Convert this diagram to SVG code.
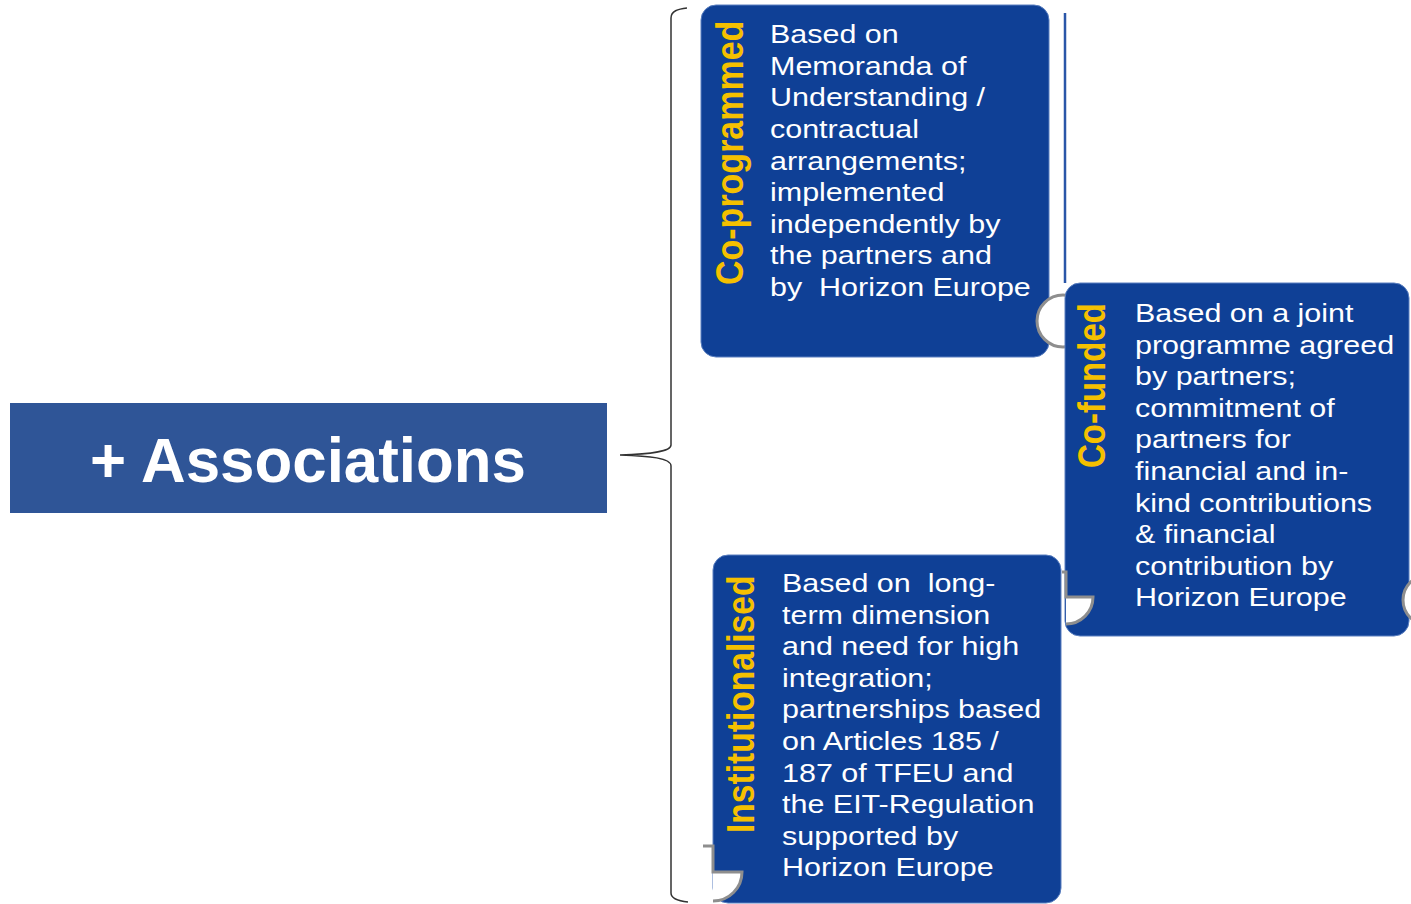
<svg xmlns="http://www.w3.org/2000/svg" width="1411" height="904" viewBox="0 0 1411 904">
<style>
.box{fill:#0F4096;stroke:#5a7fc0;stroke-width:1}
.body{font-family:"Liberation Sans",Arial,sans-serif;font-size:26.5px;fill:#FFFFFF}
.label{font-family:"Liberation Sans",Arial,sans-serif;font-weight:bold;fill:#F5C000}
.tab{fill:none;stroke:#8e8e8e;stroke-width:3}
.tabfill{fill:#FFFFFF;stroke:none}
.brace{fill:none;stroke:#333333;stroke-width:1.5}
</style>
<rect width="1411" height="904" fill="#FFFFFF"/>
<g id="connectors">
<path class="brace" d="M687,8 C678,9 671,11 671,18 L671,445 C671,452 650,454 620,455 C650,456 671,458 671,466 L671,893 C671,899 678,901 688,902"/>
</g>
<g id="node-associations">
<rect x="10" y="403" width="597" height="110" fill="#2F5597"/>
<text x="308" y="482" text-anchor="middle" font-family="'Liberation Sans',Arial,sans-serif" font-weight="bold" font-size="63" fill="#FFFFFF" textLength="436" lengthAdjust="spacingAndGlyphs">+ Associations</text>
</g>
<g id="node-coprogrammed">
<rect class="box" x="701" y="5" width="348" height="352" rx="15" ry="15"/>
<text class="label" font-size="34" transform="translate(743,285) scale(1.15,1) rotate(-90)">Co-programmed</text>
<text class="body" transform="translate(770,0) scale(1.15,1)">
<tspan x="0" y="43.3">Based on</tspan>
<tspan x="0" y="74.9">Memoranda of</tspan>
<tspan x="0" y="106.5">Understanding /</tspan>
<tspan x="0" y="138.1">contractual</tspan>
<tspan x="0" y="169.7">arrangements;</tspan>
<tspan x="0" y="201.3">implemented</tspan>
<tspan x="0" y="232.9">independently by</tspan>
<tspan x="0" y="264.5">the partners and</tspan>
<tspan x="0" y="296.1">by&#160; Horizon Europe</tspan>
</text>
<circle cx="1063" cy="321" r="26" fill="#FFFFFF" stroke="#8e8e8e" stroke-width="3"/>
</g>
<line x1="1065" y1="13" x2="1065" y2="283" stroke="#2a56a8" stroke-width="2.5"/>
<g id="node-cofunded">
<rect class="box" x="1065" y="283" width="344" height="353" rx="15" ry="15"/>
<text class="label" font-size="33" transform="translate(1105,468) scale(1.15,1) rotate(-90)">Co-funded</text>
<text class="body" transform="translate(1135,0) scale(1.15,1)">
<tspan x="0" y="322">Based on a joint</tspan>
<tspan x="0" y="353.6">programme agreed</tspan>
<tspan x="0" y="385.2">by partners;</tspan>
<tspan x="0" y="416.8">commitment of</tspan>
<tspan x="0" y="448.4">partners for</tspan>
<tspan x="0" y="480">financial and in-</tspan>
<tspan x="0" y="511.6">kind contributions</tspan>
<tspan x="0" y="543.2">&amp; financial</tspan>
<tspan x="0" y="574.8">contribution by</tspan>
<tspan x="0" y="606.4">Horizon Europe</tspan>
</text>
<path class="tabfill" d="M1066,597 L1093,597 A27,27 0 0 1 1066,624 Z"/>
<path class="tab" d="M1062,572 L1066,572 L1066,597 L1093,597 A27,27 0 0 1 1066,624"/>
<circle cx="1428" cy="600" r="25" fill="#FFFFFF" stroke="#8e8e8e" stroke-width="3"/>
</g>
<g id="node-institutionalised">
<rect class="box" x="713" y="555" width="348" height="348" rx="15" ry="15"/>
<text class="label" font-size="33.6" transform="translate(754,833) scale(1.15,1) rotate(-90)">Institutionalised</text>
<text class="body" transform="translate(782,0) scale(1.15,1)">
<tspan x="0" y="592">Based on&#160; long-</tspan>
<tspan x="0" y="623.6">term dimension</tspan>
<tspan x="0" y="655.2">and need for high</tspan>
<tspan x="0" y="686.8">integration;</tspan>
<tspan x="0" y="718.4">partnerships based</tspan>
<tspan x="0" y="750">on Articles 185 /</tspan>
<tspan x="0" y="781.6">187 of TFEU and</tspan>
<tspan x="0" y="813.2">the EIT-Regulation</tspan>
<tspan x="0" y="844.8">supported by</tspan>
<tspan x="0" y="876.4">Horizon Europe</tspan>
</text>
<path class="tabfill" d="M713,872 L742,872 A29,29 0 0 1 713,901 Z"/>
<path class="tab" d="M703,846 L713,846 L713,872 L742,872 A29,29 0 0 1 713,901"/>
</g>
</svg>
